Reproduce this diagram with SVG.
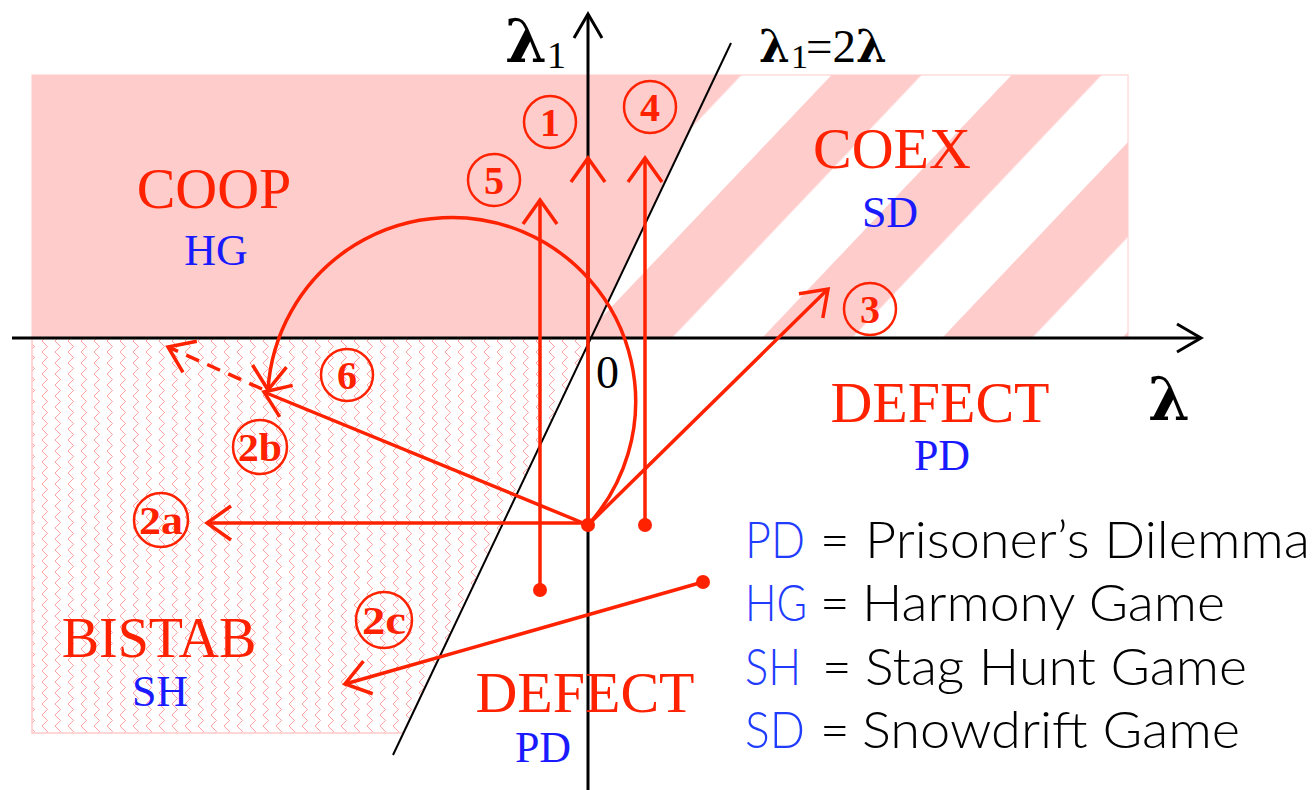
<svg xmlns="http://www.w3.org/2000/svg" width="1314" height="790" viewBox="0 0 1314 790">
<style>
.red{stroke:#ff2200;stroke-width:3.5;fill:none}
.ax{stroke:#000;stroke-width:3;fill:none}
.lbl{font-family:"Liberation Serif",serif;fill:#ff2200;text-anchor:middle}
.blu{font-family:"Liberation Serif",serif;fill:#1a1aff;text-anchor:middle}
.num{font-family:"Liberation Serif",serif;font-weight:bold;fill:#ff2200;text-anchor:middle;font-size:40px}
.circ{stroke:#ff2200;stroke-width:2.5;fill:none}
.blk{font-family:"Liberation Serif",serif;fill:#000}
.lam{font-family:"DejaVu Serif","Liberation Serif",serif;font-weight:bold;fill:#000}
.leg{font-family:Lato,"Open Sans",sans-serif;font-size:51px;font-weight:300;fill:#000}
.legb{fill:#1f3cff}
.dot{fill:#ff2200}
</style>
<defs>
<pattern id="stripes" patternUnits="userSpaceOnUse" width="130.6" height="10" patternTransform="translate(762 338) rotate(43.5)">
<rect x="0" y="0" width="65.3" height="10" fill="#ffcccc"/>
</pattern>
<pattern id="zig" patternUnits="userSpaceOnUse" width="13" height="11">
<path d="M3,0 L8.5,5.5 L3,11" fill="none" stroke="#ff5555" stroke-width="1" opacity="0.55"/>
</pattern>
<marker id="ar" markerUnits="userSpaceOnUse" orient="auto" refX="0" refY="0" markerWidth="60" markerHeight="60" viewBox="-30 -30 60 60" overflow="visible">
<path d="M-24,-17 L0,0 L-24,17" fill="none" stroke="#ff2200" stroke-width="3.5"/>
</marker>
<marker id="ak" markerUnits="userSpaceOnUse" orient="auto" refX="0" refY="0" markerWidth="60" markerHeight="60" viewBox="-30 -30 60 60" overflow="visible">
<path d="M-24,-14 L0,0 L-24,14" fill="none" stroke="#000" stroke-width="3"/>
</marker>
</defs>

<g id="regions">
<rect id="coex-bg" x="32" y="75" width="1096" height="263" fill="#fff" stroke="#ffdcdc" stroke-width="1.5"/>
<polygon id="coex" points="715.8,75 1128,75 1128,338 591,338" fill="url(#stripes)"/>
<polygon id="coop" points="32,75 715.8,75 591,338 32,338" fill="#ffcccc"/>
<polygon id="bistab" points="32,338 591,338 403,733 32,733" fill="url(#zig)" stroke="#ffcaca" stroke-width="1.5"/>
</g>

<g id="axes">
<line class="ax" x1="12" y1="338" x2="1201" y2="338" marker-end="url(#ak)"/>
<line class="ax" x1="588" y1="790" x2="588" y2="14" marker-end="url(#ak)"/>
<line x1="393" y1="755" x2="731" y2="43" stroke="#000" stroke-width="2"/>
<text class="lam" x="505" y="62" font-size="60">λ</text>
<text class="blk" x="547" y="68" font-size="38">1</text>
<text class="lam" x="1148" y="420" font-size="60">λ</text>
<text class="lam" x="759" y="62" font-size="44">λ</text>
<text class="blk" x="791" y="68" font-size="34">1</text>
<text class="blk" x="806" y="62" font-size="47">=2<tspan class="lam" font-size="44">λ</tspan></text>
<text class="blk" x="596" y="388" font-size="46">0</text>
</g>

<g id="connectors">
<line class="red" x1="588" y1="525" x2="588" y2="158" marker-end="url(#ar)"/>
<line class="red" x1="645" y1="525" x2="645" y2="158" marker-end="url(#ar)"/>
<line class="red" x1="540" y1="590" x2="540" y2="200" marker-end="url(#ar)"/>
<line class="red" x1="588" y1="525" x2="828" y2="289" marker-end="url(#ar)"/>
<line class="red" x1="588" y1="523" x2="207" y2="523" marker-end="url(#ar)"/>
<line class="red" x1="588" y1="525" x2="264" y2="392" marker-end="url(#ar)"/>
<line class="red" x1="703" y1="582" x2="345" y2="684" marker-end="url(#ar)"/>
<path class="red" d="M588,525 A184,184 0 1 0 268,390" marker-end="url(#ar)"/>
<line class="red" x1="262" y1="389" x2="168" y2="347" stroke-dasharray="14 9" marker-end="url(#ar)"/>
<circle class="dot" cx="588" cy="525" r="7"/>
<circle class="dot" cx="645" cy="525" r="7"/>
<circle class="dot" cx="540" cy="590" r="7"/>
<circle class="dot" cx="703" cy="582" r="7"/>
</g>

<g id="n1"><circle class="circ" cx="550" cy="122" r="26"/><text class="num" x="550" y="136">1</text></g>
<g id="n4"><circle class="circ" cx="650" cy="107" r="26"/><text class="num" x="650" y="121">4</text></g>
<g id="n5"><circle class="circ" cx="494" cy="180" r="26"/><text class="num" x="494" y="194">5</text></g>
<g id="n3"><circle class="circ" cx="870" cy="309" r="26"/><text class="num" x="870" y="323">3</text></g>
<g id="n6"><circle class="circ" cx="347" cy="375" r="26"/><text class="num" x="347" y="389">6</text></g>
<g id="n2b"><circle class="circ" cx="260" cy="447" r="27"/><text class="num" x="260" y="461" textLength="44" lengthAdjust="spacingAndGlyphs">2b</text></g>
<g id="n2a"><circle class="circ" cx="161" cy="520" r="27"/><text class="num" x="161" y="534" textLength="44" lengthAdjust="spacingAndGlyphs">2a</text></g>
<g id="n2c"><circle class="circ" cx="384" cy="620" r="28"/><text class="num" x="384" y="634" textLength="44" lengthAdjust="spacingAndGlyphs">2c</text></g>

<g id="lbl-coop"><text class="lbl" x="214" y="208" font-size="58">COOP</text><text class="blu" x="216" y="265" font-size="44">HG</text></g>
<g id="lbl-coex"><text class="lbl" x="892" y="168" font-size="58">COEX</text><text class="blu" x="890" y="227" font-size="44">SD</text></g>
<g id="lbl-defect1"><text class="lbl" x="940" y="422" font-size="58">DEFECT</text><text class="blu" x="942" y="470" font-size="44">PD</text></g>
<g id="lbl-bistab"><text class="lbl" x="159" y="657" font-size="56">BISTAB</text><text class="blu" x="160" y="706" font-size="44">SH</text></g>
<g id="lbl-defect2"><text class="lbl" x="585" y="712" font-size="58">DEFECT</text><text class="blu" x="543" y="762" font-size="44">PD</text></g>

<g id="legend">
<text class="leg legb" x="745" y="558" textLength="60" lengthAdjust="spacingAndGlyphs">PD</text><text class="leg" x="820" y="558">=</text><text class="leg" x="865" y="558" textLength="445" lengthAdjust="spacingAndGlyphs">Prisoner’s Dilemma</text>
<text class="leg legb" x="745" y="621" textLength="62" lengthAdjust="spacingAndGlyphs">HG</text><text class="leg" x="820" y="621">=</text><text class="leg" x="862" y="621" textLength="363" lengthAdjust="spacingAndGlyphs">Harmony Game</text>
<text class="leg legb" x="745" y="685" textLength="56" lengthAdjust="spacingAndGlyphs">SH</text><text class="leg" x="822" y="685">=</text><text class="leg" x="865" y="685" textLength="382" lengthAdjust="spacingAndGlyphs">Stag Hunt Game</text>
<text class="leg legb" x="745" y="748" textLength="60" lengthAdjust="spacingAndGlyphs">SD</text><text class="leg" x="820" y="748">=</text><text class="leg" x="862" y="748" textLength="378" lengthAdjust="spacingAndGlyphs">Snowdrift Game</text>
</g>
</svg>
